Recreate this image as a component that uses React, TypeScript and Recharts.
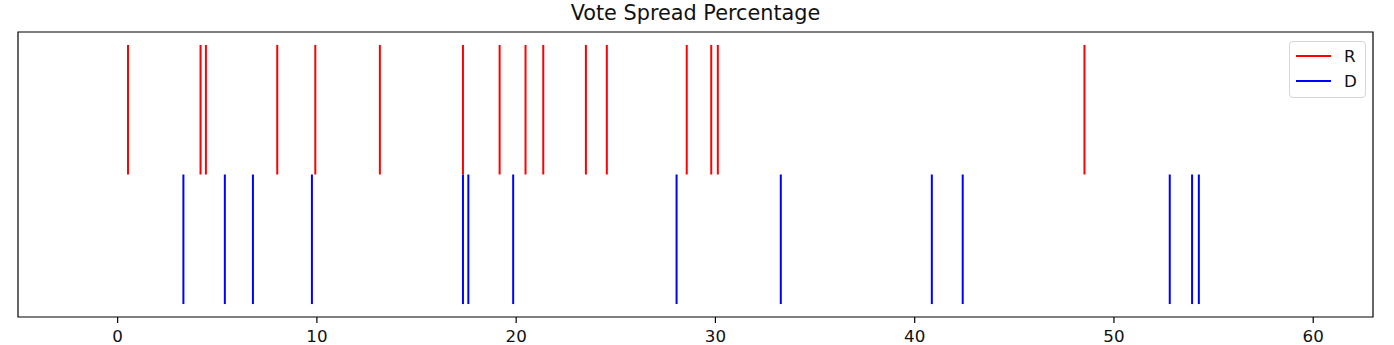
import React from 'react';
import {
    ComposedChart,
    XAxis,
    YAxis,
    ReferenceLine,
    ReferenceArea,
} from 'recharts';

// vote spread (%) per race, one tick per race
const repSpreads = [0.52, 4.16, 4.43, 8.01, 9.92, 13.16, 17.33, 19.17, 20.47, 21.36, 23.5, 24.55, 28.56, 29.79, 30.12, 48.52];
const demSpreads = [3.3, 5.38, 6.79, 9.75, 17.33, 17.6, 19.85, 28.05, 33.28, 40.86, 42.41, 52.8, 53.92, 54.26];

const seriesNames = ['R', 'D'];
const seriesColors = ['#ff0000', '#0000ff'];
const lineOffsets = [1, 0];
const xTicks = [0, 10, 20, 30, 40, 50, 60];

const FONT = '"DejaVu Sans", sans-serif';
const W = 1394;
const H = 345;

const series = [repSpreads, demSpreads];

const App: React.FC = () => (
    <div style={{ position: 'absolute', left: 0, top: 0, width: W, height: H, background: '#fff' }}>
        <div
            style={{
                position: 'absolute',
                left: 18,
                width: 1355,
                top: 3,
                lineHeight: '20px',
                textAlign: 'center',
                fontFamily: FONT,
                fontSize: 20.8,
                color: '#111',
            }}
        >
            Vote Spread Percentage
        </div>
        <ComposedChart width={W} height={H} margin={{ top: 32, right: 21, left: 18, bottom: 0 }}>
            <XAxis
                type="number"
                dataKey="x"
                domain={[-5, 63]}
                ticks={xTicks}
                allowDataOverflow
                height={28}
                axisLine={false}
                tickLine={{ stroke: '#000', strokeWidth: 1.2 }}
                tickSize={6}
                tickMargin={7}
                tick={{ fill: '#111', fontSize: 16.7, fontFamily: FONT }}
            />
            <YAxis type="number" domain={[-0.6, 1.6]} allowDataOverflow hide />
            <ReferenceArea
                x1={-5}
                x2={63}
                y1={-0.6}
                y2={1.6}
                fill="none"
                fillOpacity={0}
                stroke="#000"
                strokeWidth={1.2}
            />
            {series.map((vals, si) =>
                vals.map((v, i) => (
                    <ReferenceLine
                        key={`${si}-${i}`}
                        segment={[
                            { x: v, y: lineOffsets[si] - 0.5 },
                            { x: v, y: lineOffsets[si] + 0.5 },
                        ]}
                        stroke={seriesColors[si]}
                        strokeWidth={2}
                    />
                ))
            )}
        </ComposedChart>
        <div
            style={{
                position: 'absolute',
                left: 1289,
                top: 41,
                width: 75,
                height: 55,
                border: '1px solid #d6d6d6',
                borderRadius: 4,
                background: 'rgba(255,255,255,0.8)',
                fontFamily: FONT,
                fontSize: 16.7,
                color: '#111',
            }}
        >
            {seriesNames.map((name, i) => (
                <div
                    key={name}
                    style={{ position: 'absolute', left: 6, top: 3 + i * 25, height: 22, display: 'flex', alignItems: 'center' }}
                >
                    <span style={{ display: 'inline-block', width: 35, height: 2, background: seriesColors[i] }} />
                    <span style={{ marginLeft: 13, lineHeight: '22px' }}>{name}</span>
                </div>
            ))}
        </div>
    </div>
);

export default App;
